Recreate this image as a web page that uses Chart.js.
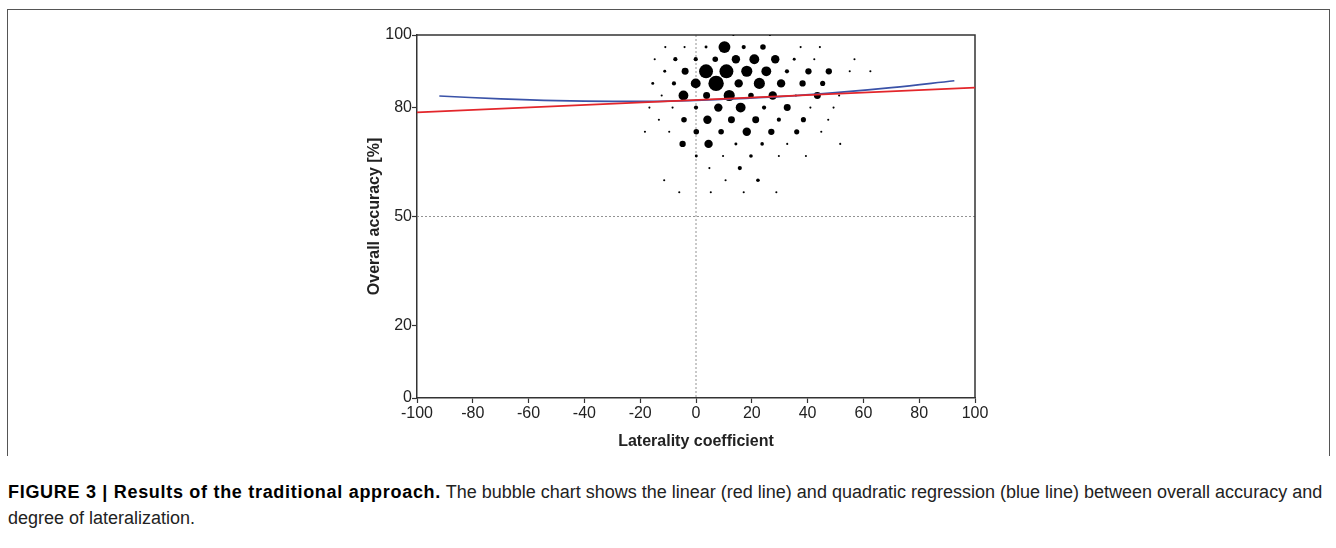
<!DOCTYPE html>
<html>
<head>
<meta charset="utf-8">
<script src="https://cdn.jsdelivr.net/npm/chart.js@4"></script>
<style>
  body { margin: 0; background: #fff; }
  #frame { position: absolute; left: 7px; top: 9px; width: 1321px; height: 446px;
           border: 1px solid #555; border-bottom: none; }
  #wrap { position: absolute; left: 0; top: 0; }
  #caption { position: absolute; left: 8px; top: 479px; width: 1325px; margin: 0;
             font-family: "Liberation Sans", Arial, sans-serif; font-size: 18px;
             line-height: 26px; color: #222; }
  #caption b { color: #000; letter-spacing: 0.7px; }
</style>
</head>
<body>
<div id="frame"></div>
<div id="wrap"><canvas id="bubble" width="1336" height="458"></canvas></div>
<p id="caption"><b>FIGURE 3 | Results of the traditional approach.</b> The bubble chart shows the linear (red line) and quadratic regression (blue line) between overall accuracy and degree of lateralization.</p>
<script>
// bubbles: laterality coefficient, overall accuracy, number of subjects
const lateral = [
  13.4, 26.5,
  -11.0, -4.1, 3.6, 10.2, 17.1, 24.0, 37.5, 44.4,
  -14.8, -7.4, -0.1, 6.9, 14.3, 20.9, 28.4, 35.2, 42.4, 56.8,
  -11.2, -3.9, 3.6, 10.9, 18.2, 25.2, 32.6, 40.3, 47.6, 55.1, 62.5,
  -15.5, -7.9, -0.1, 7.2, 15.3, 22.7, 30.5, 38.2, 45.4,
  -12.3, -4.5, 3.8, 11.9, 19.7, 27.5, 35.8, 43.5, 51.3,
  -16.7, -8.4, 0.0, 8.0, 16.0, 24.4, 32.7, 41.0, 49.3,
  -13.3, -4.3, 4.1, 12.7, 21.4, 29.7, 38.5, 47.4,
  -18.3, -9.6, 0.1, 9.0, 18.2, 27.0, 36.1, 44.9,
  -4.8, 4.5, 14.3, 23.7, 32.7, 51.7,
  0.1, 9.7, 19.7, 29.7, 39.4,
  4.8, 15.7,
  -11.4, 10.6, 22.2,
  -6.0, 5.3, 17.1, 28.8
];
const accuracy = [
  100, 100,
  96.67, 96.67, 96.67, 96.67, 96.67, 96.67, 96.67, 96.67,
  93.33, 93.33, 93.33, 93.33, 93.33, 93.33, 93.33, 93.33, 93.33, 93.33,
  90, 90, 90, 90, 90, 90, 90, 90, 90, 90, 90,
  86.67, 86.67, 86.67, 86.67, 86.67, 86.67, 86.67, 86.67, 86.67,
  83.33, 83.33, 83.33, 83.33, 83.33, 83.33, 83.33, 83.33, 83.33,
  80, 80, 80, 80, 80, 80, 80, 80, 80,
  76.67, 76.67, 76.67, 76.67, 76.67, 76.67, 76.67, 76.67,
  73.33, 73.33, 73.33, 73.33, 73.33, 73.33, 73.33, 73.33,
  70, 70, 70, 70, 70, 70,
  66.67, 66.67, 66.67, 66.67, 66.67,
  63.33, 63.33,
  60, 60, 60,
  56.67, 56.67, 56.67, 56.67
];
const subjects = [
  1, 1,
  1, 1, 2, 32, 4, 7, 1, 1,
  1, 4, 4, 7, 16, 22, 16, 2, 1, 1,
  2, 11, 44, 44, 28, 22, 4, 9, 9, 1, 1,
  2, 4, 22, 54, 16, 28, 16, 9, 6,
  1, 22, 11, 28, 7, 16, 1, 11, 1,
  1, 1, 4, 16, 22, 4, 11, 1, 1,
  1, 7, 16, 11, 11, 4, 6, 1,
  1, 1, 7, 7, 16, 9, 6, 1,
  9, 16, 2, 3, 1, 1,
  2, 1, 3, 1, 1,
  1, 4,
  1, 1, 3,
  1, 1, 1, 1
];

// regression lines
const linearX = [-100, 100];
const linearY = [78.7, 85.5];
const quadX = [-92, -70, -50, -30, -10, 10, 30, 50, 70, 92.6];
const quadY = [83.2, 82.4, 81.9, 81.7, 81.8, 82.3, 83.0, 84.1, 85.5, 87.4];

const xTicks = [-100, -80, -60, -40, -20, 0, 20, 40, 60, 80, 100];
const yTicks = [0, 20, 50, 80, 100];

const font = { family: '"Liberation Sans", Arial, sans-serif', size: 16 };

// frame around plot area + dotted reference lines at x=0 and y=50
const framePlugin = {
  id: 'frame',
  beforeDatasetsDraw(chart) {
    const { ctx, chartArea: a, scales } = chart;
    ctx.save();
    ctx.strokeStyle = '#777';
    ctx.lineWidth = 0.8;
    ctx.setLineDash([2, 2]);
    const x0 = scales.x.getPixelForValue(0);
    const y50 = scales.y.getPixelForValue(50);
    ctx.beginPath();
    ctx.moveTo(x0, a.top); ctx.lineTo(x0, a.bottom);
    ctx.moveTo(a.left, y50); ctx.lineTo(a.right, y50);
    ctx.stroke();
    ctx.setLineDash([]);
    ctx.strokeStyle = '#333';
    ctx.lineWidth = 1.5;
    ctx.beginPath();
    ctx.moveTo(a.left, a.top); ctx.lineTo(a.right, a.top); ctx.lineTo(a.right, a.bottom);
    ctx.stroke();
    ctx.restore();
  }
};

new Chart('bubble', {
  type: 'bubble',
  data: {
    datasets: [
      {
        label: 'Quadratic',
        type: 'line',
        data: quadX.map((x, i) => ({ x, y: quadY[i] })),
        borderColor: '#3a52a8',
        borderWidth: 1.7,
        pointRadius: 0,
        tension: 0.4,
        fill: false,
        order: 1,
      },
      {
        label: 'Linear',
        type: 'line',
        data: linearX.map((x, i) => ({ x, y: linearY[i] })),
        borderColor: '#e3262b',
        borderWidth: 1.7,
        pointRadius: 0,
        fill: false,
        order: 0,
      },
      {
        label: 'Subjects',
        data: lateral.map((x, i) => ({ x, y: accuracy[i], r: 1.05 * Math.sqrt(subjects[i]) })),
        backgroundColor: '#000',
        borderWidth: 0,
        hoverRadius: 0,
        order: 2,
      },
    ],
  },
  options: {
    responsive: false,
    animation: false,
    layout: { padding: { left: 340, right: 361, top: 35, bottom: 0 } },
    plugins: { legend: { display: false }, tooltip: { enabled: false } },
    scales: {
      x: {
        type: 'linear',
        min: -100,
        max: 100,
        afterFit: s => { s.height = 60; },
        afterBuildTicks: s => { s.ticks = xTicks.map(v => ({ value: v })); },
        grid: { drawOnChartArea: false, drawTicks: true, tickLength: 5, tickColor: '#333', tickWidth: 1.2 },
        border: { color: '#333', width: 1.5 },
        ticks: { color: '#222', font, padding: 1, maxRotation: 0 },
        title: { display: true, text: 'Laterality coefficient', color: '#222',
                 font: { ...font, weight: 'bold' }, padding: { top: 0, bottom: 7 } },
      },
      y: {
        min: 0,
        max: 100,
        afterFit: s => { s.width = 77; },
        afterBuildTicks: s => { s.ticks = yTicks.map(v => ({ value: v })); },
        grid: { drawOnChartArea: false, drawTicks: true, tickLength: 5, tickColor: '#333', tickWidth: 1.2 },
        border: { color: '#333', width: 1.5 },
        ticks: { color: '#222', font, padding: 0 },
        title: { display: true, text: 'Overall accuracy [%]', color: '#222',
                 font: { ...font, weight: 'bold' }, padding: { top: 25, bottom: 0 } },
      },
    },
  },
  plugins: [framePlugin],
});
</script>
</body>
</html>
